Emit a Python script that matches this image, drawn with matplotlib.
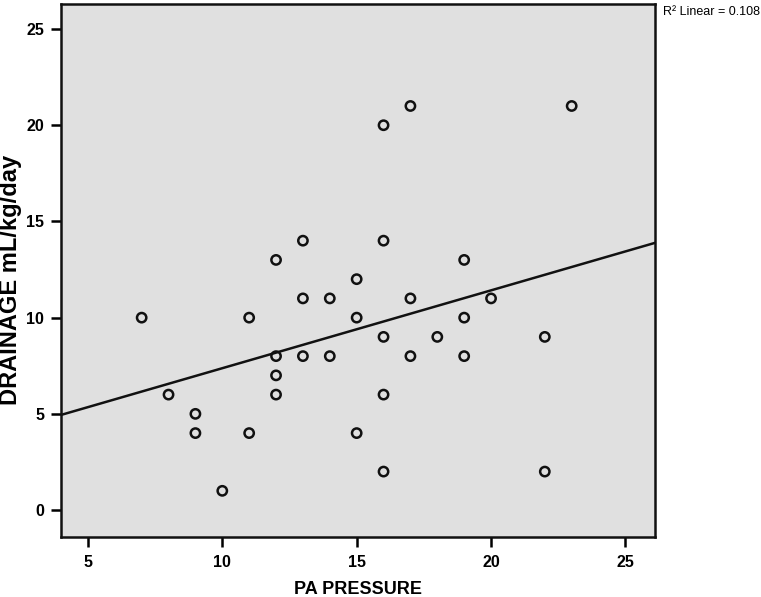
import numpy as np
import matplotlib
matplotlib.use("Agg")
import matplotlib.pyplot as plt

plt.rcParams['font.family'] = ['Liberation Sans', 'DejaVu Sans']

pa_pressure = [7, 8, 9, 9, 10, 11, 11, 12, 12, 12, 12, 13, 13, 13, 14, 14,
               15, 15, 15, 16, 16, 16, 16, 16, 17, 17, 17, 18, 19, 19, 19,
               20, 22, 22, 23]
drainage = [10, 6, 5, 4, 1, 10, 4, 13, 8, 7, 6, 14, 11, 8, 11, 8,
            12, 10, 4, 20, 14, 9, 6, 2, 21, 11, 8, 9, 13, 10, 8,
            11, 9, 2, 21]
xticks = [5, 10, 15, 20, 25]
yticks = [0, 5, 10, 15, 20, 25]
r2_label = "R² Linear = 0.108"

fig = plt.figure(figsize=(7.61, 5.97), dpi=100)
ax = fig.add_axes([0.0802, 0.1005, 0.7805, 0.8928])
ax.set_facecolor('#e0e0e0')

ax.scatter(pa_pressure, drainage, s=45, facecolors='none', edgecolors='#111111',
           linewidths=1.8, zorder=3)

xlim = (4.0, 26.1)
slope, intercept = np.polyfit(pa_pressure, drainage, 1)
xs = np.array(xlim)
ax.plot(xs, slope * xs + intercept, color='#111111', lw=1.8, zorder=2)

ax.set_xlim(*xlim)
ax.set_ylim(-1.4, 26.3)
ax.set_xticks(xticks)
ax.set_yticks(yticks)
ax.tick_params(direction='out', length=7, width=1.8, labelsize=11.5)
ax.tick_params(axis='x', pad=6)
ax.tick_params(axis='y', pad=5)
for lbl in ax.get_xticklabels() + ax.get_yticklabels():
    lbl.set_fontweight('bold')
for s in ax.spines.values():
    s.set_linewidth(1.8)
    s.set_color('#111111')

fig.text(358 / 761, 1 - 589 / 597, 'PA PRESSURE', fontsize=13, fontweight='bold',
         ha='center', va='center')
fig.text(11 / 761, 1 - 280 / 597, 'DRAINAGE mL/kg/day', fontsize=17,
         fontweight='bold', rotation=90, ha='center', va='center')

fig.text(663 / 761, 1 - 12 / 597, r2_label, fontsize=9, va='center', ha='left')

fig.savefig('out.png', dpi=100)
